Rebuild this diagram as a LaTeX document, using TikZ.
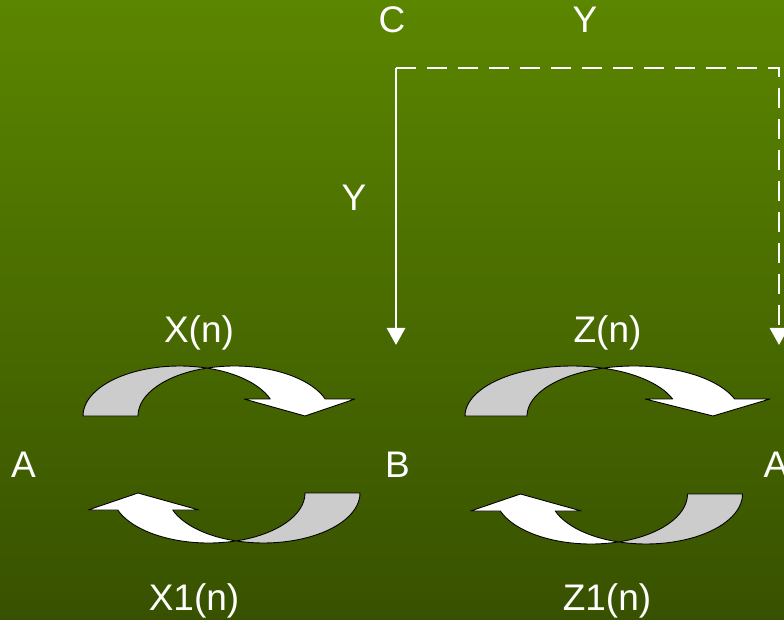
\documentclass[tikz,border=0pt]{standalone}
\usepackage{fontspec}
\setmainfont{Liberation Sans}
\usetikzlibrary{arrows.meta,positioning}
\definecolor{bgtop}{RGB}{91,134,0}
\definecolor{bgbot}{RGB}{56,81,0}
\definecolor{backgrey}{RGB}{204,204,204}

\tikzset{
    lbl/.style={white, anchor=base, inner sep=0pt, font=\fontsize{37}{37}\selectfont},
    feed/.style={white, line width=2.8pt, -{Triangle[width=18pt,length=17pt]}},
    backface/.style={fill=backgrey, draw=black, line width=0.9pt, line join=round},
    frontface/.style={fill=white, draw=black, line width=0.9pt, line join=round}
}

% curved arrow: #1 x radius, #2 shaft width, #3 inner head, #4 tip, #5 outer head
\newcommand{\curvarrow}[5]{%
    \pgfmathsetmacro\crossa{acos(#2/2/#1)}
    \pgfmathsetmacro\crossb{180-\crossa}
    \pgfmathsetmacro\heada{asin(17/50)}
    \filldraw[backface] (-#1,0) arc[start angle=180, end angle=\crossa, x radius=#1, y radius=50]
        arc[start angle=\crossb, end angle=180, x radius=#1, y radius=50] -- cycle;
    \filldraw[frontface] ({#2/2},{50*sin(\crossa)})
        arc[start angle=\crossb, end angle=\heada, x radius=#1, y radius=50]
        -- (#5,17) -- (#4,0) -- (#3,17) -- ({#1*cos(\heada)},17)
        arc[start angle=\heada, end angle=\crossa, x radius=#1, y radius=50] -- cycle;
}

\begin{document}
\begin{tikzpicture}[x=1pt, y=1pt]
    % background
    \shade[top color=bgtop, bottom color=bgbot] (0,0) rectangle (784,619);
    \useasboundingbox (0,0) rectangle (784,619);

    % labels
    \node[lbl] (c) at (392,586) {C};
    \node[lbl] (ytop) at (585,586) {Y};
    \node[lbl] (yleft) at (354,408) {Y};
    \node[lbl] (xn) at (199,276) {X(n)};
    \node[lbl] (zn) at (607.5,276) {Z(n)};
    \node[lbl] (aleft) at (23.5,142) {A};
    \node[lbl] (b) at (397.5,142) {B};
    \node[lbl] (aright) at (776,142) {A};
    \node[lbl] (x1n) at (194,9) {X1(n)};
    \node[lbl] (z1n) at (607,9) {Z1(n)};

    % Y paths
    \coordinate (corner) at (396,551);
    \coordinate (cornerr) at (779,551);
    \coordinate (tob) at (396,274);
    \coordinate (toa) at (779,274);
    \draw[feed] (corner) -- (tob);
    \draw[feed, dash pattern=on 20pt off 11pt] (corner) -- (cornerr) -- (toa);

    % curved arrows
    \begin{scope}[shift={(179.5,203)}]
        \curvarrow{96.5}{55}{64.5}{125.5}{175.5}
    \end{scope}
    \begin{scope}[shift={(572,203)}]
        \curvarrow{107}{62}{73}{141}{198}
    \end{scope}
    \begin{scope}[shift={(263.5,126)}, rotate=180]
        \curvarrow{96.5}{55}{64.5}{125.5}{175.5}
    \end{scope}
    \begin{scope}[shift={(646,125)}, rotate=180]
        \curvarrow{96.5}{55}{64.5}{125.5}{175.5}
    \end{scope}
\end{tikzpicture}
\end{document}
